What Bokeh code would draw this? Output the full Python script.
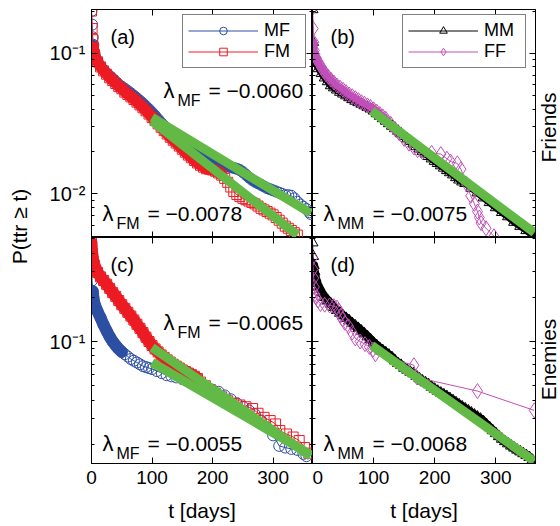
import math
from bokeh.plotting import figure
from bokeh.models import (Range1d, LinearAxis, LogAxis, FixedTicker, CustomJSTickFormatter,
                          Label, Legend, LegendItem)
from bokeh.layouts import row, column
from bokeh.embed import file_html
from bokeh.resources import INLINE

FONT = "Liberation Sans"
BLUE = "#2d4fa3"
RED = "#ec1c24"
GREEN = "#63b946"
MAGENTA = "#c050b8"
BLACK = "#000000"

# ---------------- data ----------------
# (a) Friends, MF / FM
a_mf_t = [0, 1, 2, 3, 5, 10, 15, 20, 25, 30, 35, 40, 45, 50, 55, 60, 65, 70, 75, 80, 85, 90, 95, 100,
          105, 110, 115, 120, 125, 130, 135, 140, 145, 150, 155, 160, 165, 170, 175, 180, 185, 190, 195,
          200, 205, 210, 215, 220, 225, 230, 235, 240, 245, 250, 255, 260, 265, 270, 275, 280, 285, 290,
          295, 300, 305, 310, 315, 320, 325, 330, 335, 340, 345, 350, 355, 360, 362]
a_mf_p = [0.20, 0.16, 0.13, 0.115, 0.10, 0.088, 0.081, 0.076, 0.072, 0.069, 0.066, 0.063, 0.060, 0.058,
          0.056, 0.054, 0.052, 0.050, 0.048, 0.046, 0.044, 0.042, 0.040, 0.038, 0.036, 0.034, 0.032, 0.0305,
          0.029, 0.0278, 0.0268, 0.0258, 0.0248, 0.0238, 0.023, 0.0222, 0.0214, 0.0207, 0.0201, 0.0196,
          0.0192, 0.0188, 0.0183, 0.0178, 0.0172, 0.0168, 0.0164, 0.016, 0.0157, 0.0155, 0.0153, 0.0151,
          0.0148, 0.0143, 0.0137, 0.0131, 0.0126, 0.0122, 0.0119, 0.0116, 0.0113, 0.011, 0.0108, 0.0106,
          0.0104, 0.0102, 0.0100, 0.0098, 0.0098, 0.0097, 0.0093, 0.0088, 0.0084, 0.0081, 0.0078, 0.0074,
          0.0072]
a_fm_t = [0, 1, 2, 3, 5, 10, 15, 20, 25, 30, 35, 40, 45, 50, 55, 60, 65, 70, 75, 80, 85, 90, 95, 100,
          105, 110, 115, 120, 125, 130, 135, 140, 145, 150, 155, 160, 165, 170, 175, 180, 185, 190, 195,
          200, 205, 210, 215, 220, 225, 230, 235, 240, 245, 250, 255, 260, 265, 270, 275, 280, 285, 290,
          295, 300, 305, 310, 315, 320, 325, 330, 335, 340]
a_fm_p = [0.20, 0.15, 0.125, 0.11, 0.098, 0.087, 0.080, 0.075, 0.071, 0.067, 0.064, 0.061, 0.058, 0.056,
          0.053, 0.051, 0.049, 0.047, 0.045, 0.043, 0.041, 0.039, 0.037, 0.035, 0.0332, 0.0315, 0.0298,
          0.0282, 0.0267, 0.0253, 0.0241, 0.0230, 0.0219, 0.0208, 0.0198, 0.0189, 0.0181, 0.0173, 0.0166,
          0.0160, 0.0155, 0.0151, 0.0150, 0.0148, 0.0145, 0.0141, 0.0136, 0.0129, 0.0121, 0.0112, 0.0104,
          0.0099, 0.0096, 0.0093, 0.0091, 0.0089, 0.0087, 0.0085, 0.0082, 0.0079, 0.0077, 0.0075, 0.0073,
          0.0071, 0.0068, 0.0065, 0.0062, 0.0059, 0.0057, 0.0055, 0.0053, 0.0051]

# (b) Friends, MM / FF
b_mm_t = [0, 1, 2, 3, 5, 10, 15, 20, 25, 30, 35, 40, 45, 50, 55, 60, 65, 70, 75, 80, 85, 90, 95, 100,
          105, 110, 115, 120, 125, 130, 135, 140, 145, 150, 155, 160, 165, 170, 175, 180, 185, 190, 195,
          200, 205, 210, 215, 220, 225, 230, 235, 240, 245, 250, 260, 270, 280, 290, 300, 310, 320, 330,
          340, 350, 360, 365]
b_mm_p = [0.205, 0.12, 0.10, 0.092, 0.085, 0.078, 0.072, 0.067, 0.063, 0.059, 0.057, 0.055, 0.053, 0.0515,
          0.050, 0.0485, 0.047, 0.0458, 0.0447, 0.0436, 0.0425, 0.0414, 0.0403, 0.039, 0.0373, 0.0358,
          0.0344, 0.033, 0.0317, 0.0304, 0.0292, 0.028, 0.0268, 0.0257, 0.0247, 0.0237, 0.0227, 0.0218,
          0.0209, 0.0201, 0.0193, 0.0185, 0.0178, 0.0171, 0.0165, 0.0159, 0.0153, 0.0147, 0.0142, 0.0137,
          0.0131, 0.0126, 0.0122, 0.0119, 0.011, 0.0102, 0.0094, 0.0087, 0.008, 0.0074, 0.0069, 0.0063,
          0.0059, 0.0055, 0.0051, 0.0049]
b_ff_t = [0, 1, 2, 3, 4, 6, 8, 10, 12, 15, 18, 22, 26, 30, 35, 40, 45, 50, 55, 60, 65, 70, 75, 80, 85,
          90, 95, 100, 105, 110, 115, 120, 128, 135, 142, 150, 158, 166, 172, 180, 195, 210, 220, 226,
          237, 243, 252, 259, 265, 270, 273, 276, 284, 297]
b_ff_p = [0.21, 0.15, 0.12, 0.105, 0.098, 0.093, 0.089, 0.086, 0.083, 0.079, 0.075, 0.071, 0.068, 0.065,
          0.062, 0.059, 0.057, 0.055, 0.053, 0.051, 0.0495, 0.048, 0.0465, 0.045, 0.0438, 0.0426, 0.0415,
          0.040, 0.0385, 0.037, 0.0356, 0.0342, 0.0315, 0.029, 0.027, 0.0246, 0.0228, 0.0214, 0.0205,
          0.0198, 0.0196, 0.0192, 0.0178, 0.0170, 0.0165, 0.0150, 0.0118, 0.0097, 0.0085, 0.0075, 0.0068,
          0.0062, 0.0057, 0.0050]

# (c) Enemies, FM / MF
c_fm_t = [0, 1, 2, 3, 5, 10, 15, 20, 25, 30, 35, 40, 45, 50, 55, 60, 65, 70, 75, 80, 85, 90, 95, 100,
          105, 110, 115, 120, 125, 130, 135, 140, 145, 150, 155, 160, 165, 170, 175, 180, 188, 196, 205,
          215, 225, 235, 245, 255, 266, 275, 285, 295, 304, 311, 322, 333, 343, 352, 359]
c_fm_p = [0.47, 0.40, 0.37, 0.35, 0.33, 0.295, 0.275, 0.26, 0.245, 0.23, 0.215, 0.203, 0.19, 0.178, 0.168,
          0.158, 0.149, 0.14, 0.131, 0.123, 0.115, 0.107, 0.10, 0.094, 0.089, 0.085, 0.081, 0.078, 0.075,
          0.0725, 0.070, 0.068, 0.066, 0.064, 0.0625, 0.061, 0.0595, 0.058, 0.056, 0.053, 0.050, 0.047,
          0.0445, 0.042, 0.0395, 0.038, 0.037, 0.036, 0.035, 0.0325, 0.0305, 0.029, 0.0275, 0.0248, 0.0235,
          0.0224, 0.0212, 0.019, 0.0174]
c_mf_t = [0, 1, 2, 3, 5, 10, 15, 20, 25, 30, 35, 40, 45, 50, 55, 60, 65, 70, 75, 80, 85, 90, 95, 100,
          108, 116, 124, 132, 140, 150, 160, 170, 180, 190, 200, 210, 220, 230, 240, 250, 260, 270, 280,
          290, 300, 310, 320, 330, 340, 350, 355]
c_mf_p = [0.31, 0.26, 0.22, 0.20, 0.18, 0.16, 0.145, 0.13, 0.118, 0.108, 0.10, 0.094, 0.089, 0.085, 0.082,
          0.079, 0.076, 0.074, 0.072, 0.070, 0.068, 0.067, 0.066, 0.065, 0.063, 0.061, 0.059, 0.058, 0.057,
          0.0555, 0.054, 0.053, 0.0515, 0.049, 0.047, 0.0455, 0.043, 0.0405, 0.038, 0.036, 0.034, 0.032,
          0.029, 0.026, 0.023, 0.0195, 0.019, 0.0186, 0.0183, 0.0172, 0.0166]

# (d) Enemies, MM / FF
d_mm_t = [0, 1, 2, 3, 5, 7, 10, 15, 20, 25, 30, 35, 40, 45, 50, 55, 60, 65, 70, 75, 80, 85, 90, 95, 100,
          105, 110, 115, 120, 125, 130, 135, 140, 145, 150, 155, 160, 165, 170, 175, 180, 185, 190, 195,
          200, 205, 210, 215, 220, 225, 230, 235, 240, 245, 250, 255, 260, 265, 270, 275, 280, 285, 290,
          295, 300, 305, 310, 315, 320, 325, 330, 335, 340, 345, 350, 355, 360, 365]
d_mm_p = [0.47, 0.38, 0.33, 0.30, 0.27, 0.25, 0.235, 0.215, 0.20, 0.19, 0.18, 0.171, 0.163, 0.156, 0.15,
          0.144, 0.139, 0.133, 0.128, 0.123, 0.118, 0.113, 0.108, 0.103, 0.098, 0.094, 0.090, 0.087, 0.084,
          0.081, 0.078, 0.074, 0.071, 0.069, 0.066, 0.064, 0.062, 0.0605, 0.058, 0.056, 0.054, 0.0525,
          0.051, 0.049, 0.0475, 0.046, 0.0447, 0.0435, 0.0423, 0.041, 0.0397, 0.0384, 0.0372, 0.036,
          0.0349, 0.0338, 0.0327, 0.0317, 0.0307, 0.0297, 0.0285, 0.0272, 0.026, 0.0248, 0.0237, 0.0226,
          0.0217, 0.0209, 0.0202, 0.0195, 0.0189, 0.0183, 0.0178, 0.0173, 0.0168, 0.0163, 0.0156, 0.0148]
d_ff_t = [0, 1, 2, 3, 4, 6, 9, 13, 20, 28, 35, 40, 43, 46, 49, 53, 59, 65, 70, 78, 86, 93, 99, 103, 166,
          171, 270, 363]
d_ff_p = [0.37, 0.31, 0.27, 0.235, 0.21, 0.20, 0.19, 0.18, 0.178, 0.176, 0.174, 0.17, 0.162, 0.15, 0.142,
          0.134, 0.127, 0.115, 0.105, 0.10, 0.096, 0.092, 0.088, 0.082, 0.069, 0.057, 0.046, 0.034]

# exponential fits (start / end of each green line)
fit_a_mf_t, fit_a_mf_p = [100, 362], [0.035, 0.0073]
fit_a_fm_t, fit_a_fm_p = [100, 340], [0.033, 0.0051]
fit_b_mm_t, fit_b_mm_p = [97, 363], [0.039, 0.0053]
fit_c_fm_t, fit_c_fm_p = [100, 362], [0.091, 0.0166]
fit_c_mf_t, fit_c_mf_p = [100, 362], [0.072, 0.0170]
fit_d_mm_t, fit_d_mm_p = [97, 363], [0.094, 0.0153]

lambda_text = {"a_mf": "−0.0060", "a_fm": "−0.0078", "b_mm": "−0.0075",
               "c_fm": "−0.0065", "c_mf": "−0.0055", "d_mm": "−0.0068"}

x_ticks = [0, 100, 200, 300]
top_major = [0.01, 0.1]
top_minor = [0.005, 0.006, 0.007, 0.008, 0.009, 0.02, 0.03, 0.04, 0.05, 0.06, 0.07, 0.08, 0.09, 0.2]
bot_major = [0.1]
bot_minor = [0.02, 0.03, 0.04, 0.05, 0.06, 0.07, 0.08, 0.09, 0.2, 0.3, 0.4, 0.5]
X_END = 365
TOP_Y = (0.0049, 0.205)
BOT_Y = (0.0148, 0.51)

# ---------------- layout geometry (page pixels) ----------------
GEOM = {
    "a": (91, 9, 221, 228, TOP_Y),
    "b": (312, 9, 223, 228, TOP_Y),
    "c": (91, 237, 221, 226, BOT_Y),
    "d": (312, 237, 223, 226, BOT_Y),
}
PAGE_H = 525


def to_data(panel, px, py):
    left, top, w, h, (lo, hi) = GEOM[panel]
    t = (px - left) / w * X_END
    l0, l1 = math.log10(lo), math.log10(hi)
    return t, 10 ** (l0 + (top + h - py) / h * (l1 - l0))


SUP_JS = """
const sup = {"-": "\u207b", "0": "\u2070", "1": "\u00b9", "2": "\u00b2", "3": "\u00b3",
             "4": "\u2074", "5": "\u2075", "6": "\u2076", "7": "\u2077", "8": "\u2078", "9": "\u2079"};
const e = Math.round(Math.log10(tick));
return "10" + String(e).split("").map(c => sup[c]).join("");
"""


def style_axis(ax, labels):
    ax.axis_line_color = "black"
    ax.axis_line_width = 1
    ax.major_tick_in = 6
    ax.major_tick_out = 0
    ax.minor_tick_in = 3
    ax.minor_tick_out = 0
    ax.major_tick_line_color = "black"
    ax.minor_tick_line_color = "black"
    if labels:
        ax.major_label_text_font = FONT
        ax.major_label_text_font_size = "19px"
        ax.major_label_text_color = "black"
        ax.major_label_standoff = 7
    else:
        ax.formatter = CustomJSTickFormatter(code="return ''")
        ax.major_label_text_font_size = "0px"
        ax.major_label_standoff = 0


def make_panel(name, bl, br, bt, bb, xlabels, ylabels):
    left, top, w, h, ylim = GEOM[name]
    p = figure(frame_width=w, frame_height=h, x_range=Range1d(0, X_END), y_range=Range1d(*ylim),
               y_axis_type="log", x_axis_location=None, y_axis_location=None,
               min_border_left=bl, min_border_right=br, min_border_top=bt, min_border_bottom=bb,
               output_backend="svg", toolbar_location=None,
               background_fill_color="white", border_fill_color="white",
               outline_line_color="black", outline_line_width=1)
    major, minor = (top_major, top_minor) if ylim == TOP_Y else (bot_major, bot_minor)
    for side in ("left", "right"):
        ax = LogAxis(ticker=FixedTicker(ticks=major, minor_ticks=minor))
        lab = ylabels and side == "left"
        style_axis(ax, lab)
        if lab:
            ax.formatter = CustomJSTickFormatter(code=SUP_JS)
            ax.major_label_text_font_size = "20px"
            ax.major_label_standoff = 6
        p.add_layout(ax, side)
    for side in ("above", "below"):
        ax = LinearAxis(ticker=FixedTicker(ticks=x_ticks))
        lab = xlabels and side == "below"
        style_axis(ax, lab)
        ax.minor_tick_line_color = None
        if lab:
            ax.axis_label = "t [days]"
            ax.axis_label_text_font = FONT
            ax.axis_label_text_font_size = "21px"
            ax.axis_label_text_font_style = "normal"
            ax.axis_label_text_color = "black"
            ax.axis_label_standoff = 12
        p.add_layout(ax, side)
    for g in p.grid:
        g.visible = False
    return p


def txt(p, panel, s, px, py, size, align="left"):
    x, y = to_data(panel, px, py)
    p.add_layout(Label(x=x, y=y, text=s, text_font=FONT, text_font_size=f"{size}px",
                       text_color="black", text_align=align, text_baseline="alphabetic"))


def lam(p, panel, sub, val, px, py):
    txt(p, panel, "λ", px, py, 22)
    txt(p, panel, sub, px + 14, py + 10, 16)
    txt(p, panel, "= " + val, px + (49 if sub == "MM" else 45), py, 21)


def series(p, t, v, color, marker, size, dense=None, band=9):
    # stretch where the samples are packed so tightly that their markers merge into one band
    if dense is not None:
        lo, hi = dense
        idx = [i for i, x in enumerate(t) if lo <= x <= hi]
        p.line([t[i] for i in idx], [v[i] for i in idx], line_color=color, line_width=band,
               line_join="round", line_cap="round")
    l = p.line(t, v, line_color=color, line_width=1)
    s = p.scatter(t, v, marker=marker, size=size, fill_color=None, line_color=color, line_width=1)
    return l, s


def legend(p, items, x, y):
    lg = Legend(items=[LegendItem(label=lab, renderers=list(r)) for lab, r in items], location=(x, y),
                label_text_font=FONT, label_text_font_size="18px", label_text_color="black",
                border_line_color="black", border_line_width=1, background_fill_color="white",
                background_fill_alpha=1.0, padding=5, spacing=0, margin=0, glyph_width=70,
                glyph_height=19, label_height=19, label_width=36, label_standoff=6)
    p.add_layout(lg)


# ---------------- panels ----------------
pa = make_panel("a", 53, 0, 9, 0, False, True)
r_mf = series(pa, a_mf_t, a_mf_p, BLUE, "circle", 11, dense=(3, 300), band=10)
r_fm = series(pa, a_fm_t, a_fm_p, RED, "square", 10, dense=(3, 215), band=11)
pa.line(fit_a_mf_t, fit_a_mf_p, line_color=GREEN, line_width=9)
pa.line(fit_a_fm_t, fit_a_fm_p, line_color=GREEN, line_width=9)
legend(pa, [("MF", r_mf), ("FM", r_fm)], 91, 169)
txt(pa, "a", "(a)", 110, 36, 20)
lam(pa, "a", "MF", lambda_text["a_mf"], 163, 90)
lam(pa, "a", "FM", lambda_text["a_fm"], 102, 213)

pb = make_panel("b", 0, 1, 9, 0, False, False)
r_mm = series(pb, b_mm_t, b_mm_p, BLACK, "triangle", 11, dense=(2, 365), band=7)
r_ff = series(pb, b_ff_t, b_ff_p, MAGENTA, "diamond", 15, dense=(2, 125), band=7)
pb.line(fit_b_mm_t, fit_b_mm_p, line_color=GREEN, line_width=9)
legend(pb, [("MM", r_mm), ("FF", r_ff)], 90, 169)
txt(pb, "b", "(b)", 330, 36, 20)
lam(pb, "b", "MM", lambda_text["b_mm"], 323, 213)

pc = make_panel("c", 53, 0, 0, 62, True, True)
series(pc, c_mf_t, c_mf_p, BLUE, "circle", 11, dense=(2, 50), band=12)
series(pc, c_fm_t, c_fm_p, RED, "square", 10, dense=(0, 175), band=12)
pc.line(fit_c_fm_t, fit_c_fm_p, line_color=GREEN, line_width=9)
pc.line(fit_c_mf_t, fit_c_mf_p, line_color=GREEN, line_width=9)
txt(pc, "c", "(c)", 110, 264, 20)
lam(pc, "c", "FM", lambda_text["c_fm"], 163, 322)
lam(pc, "c", "MF", lambda_text["c_mf"], 102, 443)

pd_ = make_panel("d", 0, 1, 0, 62, True, False)
series(pd_, d_mm_t, d_mm_p, BLACK, "triangle", 11, dense=(2, 365), band=9)
series(pd_, d_ff_t, d_ff_p, MAGENTA, "diamond", 15)
pd_.line(fit_d_mm_t, fit_d_mm_p, line_color=GREEN, line_width=9)
txt(pd_, "d", "(d)", 330, 264, 20)
lam(pd_, "d", "MM", lambda_text["d_mm"], 323, 443)


def side_fig(width, labels):
    f = figure(width=width, height=PAGE_H, x_range=Range1d(0, 1), y_range=Range1d(0, 1),
               x_axis_location=None, y_axis_location=None, min_border=0,
               output_backend="svg", toolbar_location=None, outline_line_color=None,
               background_fill_color="white", border_fill_color="white")
    for g in f.grid:
        g.visible = False
    for text, cx, cy in labels:
        f.add_layout(Label(x=cx, y=(PAGE_H - cy) / PAGE_H, text=text, text_font=FONT,
                           text_font_size="21px", text_color="black", text_align="center",
                           text_baseline="middle", angle=math.pi / 2))
    return f


ylab = side_fig(38, [("P(ttr ≥ t)", 0.5, 226)])
rlab = side_fig(23, [("Friends", 0.5, 127), ("Enemies", 0.5, 359)])

layout = row(ylab, column(row(pa, pb), row(pc, pd_)), rlab)

with open("out.html", "w") as f:
    f.write(file_html(layout, INLINE))
